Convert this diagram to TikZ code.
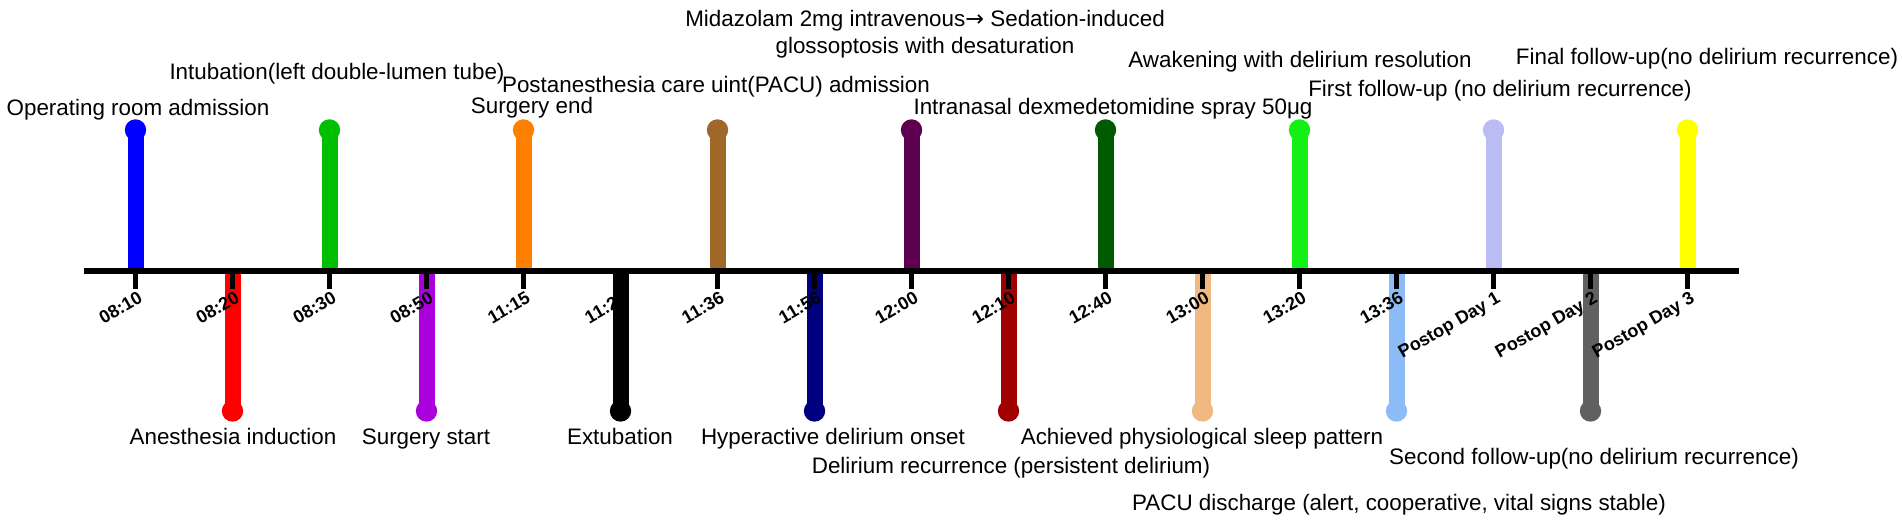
\documentclass[tikz,border=0pt]{standalone}
\usepackage{fontspec}
\setmainfont{Liberation Sans}
\newfontfamily\arrowfont{DejaVu Sans}

\definecolor{cAdm}{RGB}{0,0,255}
\definecolor{cInd}{RGB}{255,0,0}
\definecolor{cInt}{RGB}{0,190,0}
\definecolor{cSst}{RGB}{170,0,220}
\definecolor{cEnd}{RGB}{255,128,0}
\definecolor{cExt}{RGB}{0,0,0}
\definecolor{cPacu}{RGB}{160,104,40}
\definecolor{cHyp}{RGB}{0,0,128}
\definecolor{cMid}{RGB}{94,0,80}
\definecolor{cRec}{RGB}{160,0,0}
\definecolor{cDex}{RGB}{0,90,0}
\definecolor{cSlp}{RGB}{240,185,130}
\definecolor{cAwk}{RGB}{20,240,20}
\definecolor{cDis}{RGB}{140,188,248}
\definecolor{cFuA}{RGB}{188,188,245}
\definecolor{cFuB}{RGB}{96,96,96}
\definecolor{cFuC}{RGB}{255,255,0}

\begin{document}
\begin{tikzpicture}[x=0.5pt,y=-0.5pt,
    stem/.style={line width=8pt},
    tickmark/.style={line width=2.5pt},
    evlabel/.style={inner sep=0pt, anchor=base, font=\fontsize{11.2}{13.5}\selectfont},
    tlabel/.style={inner sep=0pt, anchor=north east, rotate=30, xshift=1.5pt, font=\fontsize{9}{10}\selectfont\bfseries}]
	\useasboundingbox (0,0) rectangle (1902,528);
	
	% Axis points and stem ends
	\coordinate (axL) at (84,271); \coordinate (axR) at (1739,271); % axis
	\coordinate (a1) at (135.5,271); \coordinate (e1) at (135.5,130); % 08:10
	\coordinate (a2) at (232.5,271); \coordinate (e2) at (232.5,411); % 08:20
	\coordinate (a3) at (329.5,271); \coordinate (e3) at (329.5,130); % 08:30
	\coordinate (a4) at (426.5,271); \coordinate (e4) at (426.5,411); % 08:50
	\coordinate (a5) at (523.5,271); \coordinate (e5) at (523.5,130); % 11:15
	\coordinate (a6) at (620.5,271); \coordinate (e6) at (620.5,411); % 11:25
	\coordinate (a7) at (717.5,271); \coordinate (e7) at (717.5,130); % 11:36
	\coordinate (a8) at (814.5,271); \coordinate (e8) at (814.5,411); % 11:56
	\coordinate (a9) at (911.5,271); \coordinate (e9) at (911.5,130); % 12:00
	\coordinate (a10) at (1008.5,271); \coordinate (e10) at (1008.5,411); % 12:10
	\coordinate (a11) at (1105.5,271); \coordinate (e11) at (1105.5,130); % 12:40
	\coordinate (a12) at (1202.5,271); \coordinate (e12) at (1202.5,411); % 13:00
	\coordinate (a13) at (1299.5,271); \coordinate (e13) at (1299.5,130); % 13:20
	\coordinate (a14) at (1396.5,271); \coordinate (e14) at (1396.5,411); % 13:36
	\coordinate (a15) at (1493.5,271); \coordinate (e15) at (1493.5,130); % day 1
	\coordinate (a16) at (1590.5,271); \coordinate (e16) at (1590.5,411); % day 2
	\coordinate (a17) at (1687.5,271); \coordinate (e17) at (1687.5,130); % day 3
	
	% Stems and dots
	\draw[stem, cAdm] (a1) -- (e1); \fill[cAdm] (e1) circle (5.35pt);
	\draw[stem, cInd] (a2) -- (e2); \fill[cInd] (e2) circle (5.35pt);
	\draw[stem, cInt] (a3) -- (e3); \fill[cInt] (e3) circle (5.35pt);
	\draw[stem, cSst] (a4) -- (e4); \fill[cSst] (e4) circle (5.35pt);
	\draw[stem, cEnd] (a5) -- (e5); \fill[cEnd] (e5) circle (5.35pt);
	\draw[stem, cExt] (a6) -- (e6); \fill[cExt] (e6) circle (5.35pt);
	\draw[stem, cPacu] (a7) -- (e7); \fill[cPacu] (e7) circle (5.35pt);
	\draw[stem, cHyp] (a8) -- (e8); \fill[cHyp] (e8) circle (5.35pt);
	\draw[stem, cMid] (a9) -- (e9); \fill[cMid] (e9) circle (5.35pt);
	\draw[stem, cRec] (a10) -- (e10); \fill[cRec] (e10) circle (5.35pt);
	\draw[stem, cDex] (a11) -- (e11); \fill[cDex] (e11) circle (5.35pt);
	\draw[stem, cSlp] (a12) -- (e12); \fill[cSlp] (e12) circle (5.35pt);
	\draw[stem, cAwk] (a13) -- (e13); \fill[cAwk] (e13) circle (5.35pt);
	\draw[stem, cDis] (a14) -- (e14); \fill[cDis] (e14) circle (5.35pt);
	\draw[stem, cFuA] (a15) -- (e15); \fill[cFuA] (e15) circle (5.35pt);
	\draw[stem, cFuB] (a16) -- (e16); \fill[cFuB] (e16) circle (5.35pt);
	\draw[stem, cFuC] (a17) -- (e17); \fill[cFuC] (e17) circle (5.35pt);
	
	% Time axis
	\draw[line width=3.2pt] (axL) -- (axR);
	
	% Ticks and times
	\draw[tickmark] (a1) -- ++(0,18) node[tlabel] (t1) {08:10};
	\draw[tickmark] (a2) -- ++(0,18) node[tlabel] (t2) {08:20};
	\draw[tickmark] (a3) -- ++(0,18) node[tlabel] (t3) {08:30};
	\draw[tickmark] (a4) -- ++(0,18) node[tlabel] (t4) {08:50};
	\draw[tickmark] (a5) -- ++(0,18) node[tlabel] (t5) {11:15};
	\draw[tickmark] (a6) -- ++(0,18) node[tlabel] (t6) {11:25};
	\draw[tickmark] (a7) -- ++(0,18) node[tlabel] (t7) {11:36};
	\draw[tickmark] (a8) -- ++(0,18) node[tlabel] (t8) {11:56};
	\draw[tickmark] (a9) -- ++(0,18) node[tlabel] (t9) {12:00};
	\draw[tickmark] (a10) -- ++(0,18) node[tlabel] (t10) {12:10};
	\draw[tickmark] (a11) -- ++(0,18) node[tlabel] (t11) {12:40};
	\draw[tickmark] (a12) -- ++(0,18) node[tlabel] (t12) {13:00};
	\draw[tickmark] (a13) -- ++(0,18) node[tlabel] (t13) {13:20};
	\draw[tickmark] (a14) -- ++(0,18) node[tlabel] (t14) {13:36};
	\draw[tickmark] (a15) -- ++(0,18) node[tlabel] (t15) {Postop Day 1};
	\draw[tickmark] (a16) -- ++(0,18) node[tlabel] (t16) {Postop Day 2};
	\draw[tickmark] (a17) -- ++(0,18) node[tlabel] (t17) {Postop Day 3};
	
	% Events above the axis
	\node[evlabel] (lAdm) at (138,116) {Operating room admission};
	\node[evlabel] (lInt) at (337,80) {Intubation(left double-lumen tube)};
	\node[evlabel] (lEnd) at (532,114) {Surgery end};
	\node[evlabel] (lPacu) at (716,93) {Postanesthesia care uint(PACU) admission};
	\node[evlabel, anchor=north, align=center] (lMid) at (925,10) {Midazolam 2mg intravenous{\arrowfont →} Sedation-induced\\glossoptosis with desaturation};
	\node[evlabel] (lDex) at (1113,115) {Intranasal dexmedetomidine spray 50μg};
	\node[evlabel] (lAwk) at (1300,68) {Awakening with delirium resolution};
	\node[evlabel] (lFuA) at (1500,97) {First follow-up (no delirium recurrence)};
	\node[evlabel] (lFuC) at (1707,65) {Final follow-up(no delirium recurrence)};
	
	% Events below the axis
	\node[evlabel] (lInd) at (233,445) {Anesthesia induction};
	\node[evlabel] (lSst) at (426,445) {Surgery start};
	\node[evlabel] (lExt) at (620,445) {Extubation};
	\node[evlabel] (lHyp) at (833,445) {Hyperactive delirium onset};
	\node[evlabel] (lRec) at (1011,474) {Delirium recurrence (persistent delirium)};
	\node[evlabel] (lSlp) at (1202,445) {Achieved physiological sleep pattern};
	\node[evlabel] (lDis) at (1399,511) {PACU discharge (alert, cooperative, vital signs stable)};
	\node[evlabel] (lFuB) at (1594,465) {Second follow-up(no delirium recurrence)};
	
\end{tikzpicture}
\end{document}
